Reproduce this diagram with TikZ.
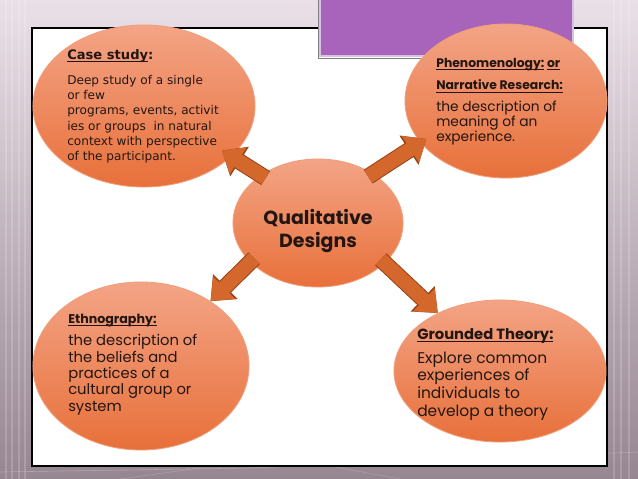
\documentclass[tikz,border=0pt]{standalone}
\usepackage{fontspec}
\usetikzlibrary{shapes.geometric,arrows.meta}
\newfontfamily\gothic{Poppins}
\newfontfamily\tahoma{DejaVu Sans}
\newcommand\uln[1]{\setbox0\hbox{#1}\rlap{\vrule height -1.2pt depth 1.9pt width\wd0}\box0\relax}

\definecolor{bgtop}{RGB}{234,224,232}
\definecolor{bgbot}{RGB}{150,134,146}
\definecolor{purplefill}{RGB}{168,100,187}
\definecolor{purpleedge}{RGB}{216,194,226}
\definecolor{bubbletop}{RGB}{243,164,134}
\definecolor{bubblebot}{RGB}{232,112,58}
\definecolor{bubbleedge}{RGB}{240,158,122}
\definecolor{arrowfill}{RGB}{212,104,44}
\definecolor{arrowrim}{RGB}{150,66,22}
\definecolor{inkc}{RGB}{35,22,18}

\tikzset{
 bubble/.style={ellipse,inner sep=0pt,top color=bubbletop,bottom color=bubblebot,draw=bubbleedge,line width=.6pt},
 bigarrow/.style={draw=arrowfill,line width=.36cm,-{Triangle[width=.76cm,length=.48cm]},shorten <=-4pt,
  preaction={draw=arrowrim,line width=.41cm,-{Triangle[width=.84cm,length=.52cm]}}},
 blurb/.style={align=left,anchor=north west,inner sep=0pt,text=inkc},
}

\begin{document}
\begin{tikzpicture}[x=.025cm,y=-.025cm]
 \useasboundingbox (0,0) rectangle (638,479);
 % slide background
 \shade[top color=bgtop,bottom color=bgbot] (0,0) rectangle (638,479);
 \foreach \xx in {6,12,19,25,614,621,629}
  \draw[white,opacity=.18,line width=1.5pt] (\xx,0) -- (\xx,479);
 \draw[white,opacity=.25] (0,472) -- (250,468) -- (638,452);
 \draw[white,opacity=.2] (120,479) -- (200,468);
 \draw[white,opacity=.2] (400,479) -- (330,466);
 % content frame and title tab
 \draw[fill=white,line width=1pt] (32,28) rectangle (607,466);
 \draw[fill=purplefill,draw=purpleedge,line width=2pt] (320,-5) rectangle (573,56);
 \draw[gray,line width=.4pt] (318,-5) -- (318,58) -- (575,58);
 % bubbles
 \node[bubble,minimum width=5.55cm,minimum height=4.05cm] (case) at (144,106) {};
 \node[bubble,minimum width=5.05cm,minimum height=3.85cm] (phen) at (506,101) {};
 \node[bubble,minimum width=5.4cm,minimum height=4.2cm] (ethno) at (141,366) {};
 \node[bubble,minimum width=5.3cm,minimum height=3.55cm] (ground) at (500,371) {};
 \node[bubble,minimum width=4.25cm,minimum height=3.2cm] (qd) at (318,223) {};
 % arrows out of the centre
 \draw[bigarrow,shorten >=-8pt] (qd.140) -- (case.-30);
 \draw[bigarrow,shorten >=-5pt] (qd.42) -- (phen.-154);
 \draw[bigarrow] (qd.210) -- (ethno.43);
 \draw[bigarrow] (qd.-31) -- (ground.137);
 % texts
 \node[text=inkc,align=center,font=\gothic\bfseries\fontsize{13.5}{16.5}\selectfont] (qdtxt) at (318,231) {Qualitative\\Designs};
 \node[blurb,font=\tahoma\fontsize{8.6}{10.9}\selectfont] (casetxt) at (67,49)
  {{\bfseries\fontsize{9.3}{11}\selectfont\uln{Case study}:}\\[6.8pt]
   Deep study of a single\\ or few\\ programs, events, activit\\
   ies or groups\ \ in natural\\ context with perspective\\ of the participant.};
 \node[blurb,font=\gothic\fontsize{9.8}{11}\selectfont] (phentxt) at (436,58)
  {{\bfseries\fontsize{8.8}{11}\selectfont\uln{Phenomenology:}\ \uln{or}}\\[5pt]
   {\bfseries\fontsize{8.8}{11}\selectfont\uln{Narrative Research:}}\\[4pt]
   the description of\\ meaning of an\\ experience.};
 \node[blurb,font=\gothic\fontsize{10.5}{11.7}\selectfont] (ethnotxt) at (68,314)
  {{\bfseries\fontsize{9}{11}\selectfont\uln{Ethnography:}}\\[3.9pt]
   the description of\\ the beliefs and\\ practices of a\\ cultural group or\\ system};
 \node[blurb,font=\gothic\fontsize{11}{12.6}\selectfont] (groundtxt) at (417,328)
  {{\bfseries\fontsize{10.5}{12}\selectfont\uln{Grounded Theory:}}\\[4.4pt]
   Explore common\\ experiences of\\ individuals to\\ develop a theory};
\end{tikzpicture}
\end{document}
